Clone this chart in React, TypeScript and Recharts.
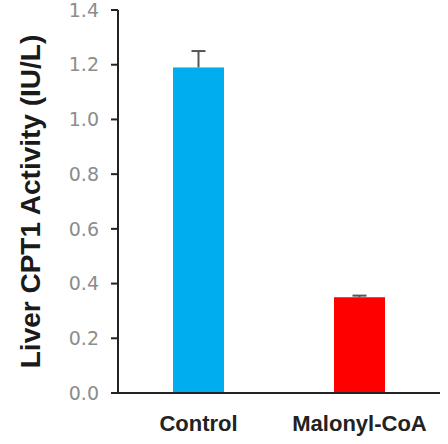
import { BarChart, Bar, XAxis, YAxis } from "recharts";

const groups = ["Control", "Malonyl-CoA"];
const activity = [1.19, 0.35];
const sem = [0.06, 0.006];
const barColors = ["#00ADEF", "#FF0000"];
const yTicks = [0, 0.2, 0.4, 0.6, 0.8, 1.0, 1.2, 1.4];

const data = groups.map((g, i) => ({
  group: g,
  activity: activity[i],
  sem: sem[i],
  color: barColors[i],
}));

// bar + upward-only error whisker, sized from the bar's own px/value ratio
function BarWithError(props: any) {
  const { x, y, width, height, payload } = props;
  const pxPerUnit = height / payload.activity;
  const top = y - payload.sem * pxPerUnit;
  const cx = x + width / 2;
  return (
    <g>
      <line x1={cx} y1={y} x2={cx} y2={top} stroke="#555" strokeWidth={2} />
      <line x1={cx - 7} y1={top} x2={cx + 7} y2={top} stroke="#555" strokeWidth={2} />
      <rect x={x} y={y} width={width} height={height} fill={payload.color} />
    </g>
  );
}

export default function App() {
  return (
    <div style={{ position: "absolute", left: 0, top: 0, width: 448, height: 444, background: "#fff" }}>
      <BarChart
        width={448}
        height={444}
        data={data}
        margin={{ top: 10, right: 8, bottom: 0, left: 0 }}
        barCategoryGap={55}
      >
        <XAxis
          dataKey="group"
          axisLine={{ stroke: "#222", strokeWidth: 2 }}
          tickLine={false}
          tick={{ fill: "#222", fontSize: 22, fontWeight: 700, fontFamily: "Liberation Sans, Arial, sans-serif" }}
          tickMargin={16}
          height={51}
        />
        <YAxis
          domain={[0, 1.4]}
          ticks={yTicks}
          interval={0}
          tickFormatter={(v: number) => v.toFixed(1)}
          width={118}
          axisLine={{ stroke: "#222", strokeWidth: 2 }}
          tickLine={{ stroke: "#222", strokeWidth: 2 }}
          tickSize={7}
          tickMargin={12}
          tick={{ fill: "#8c8c8c", fontSize: 19, fontFamily: "DejaVu Sans, sans-serif" }}
          label={{
            value: "Liver CPT1 Activity (IU/L)",
            angle: -90,
            position: "center",
            dx: -29,
            style: { fill: "#1a1a1a", fontSize: 28, fontWeight: 700, fontFamily: "Liberation Sans, Arial, sans-serif" },
          }}
        />
        <Bar dataKey="activity" isAnimationActive={false} shape={BarWithError} />
      </BarChart>
    </div>
  );
}
